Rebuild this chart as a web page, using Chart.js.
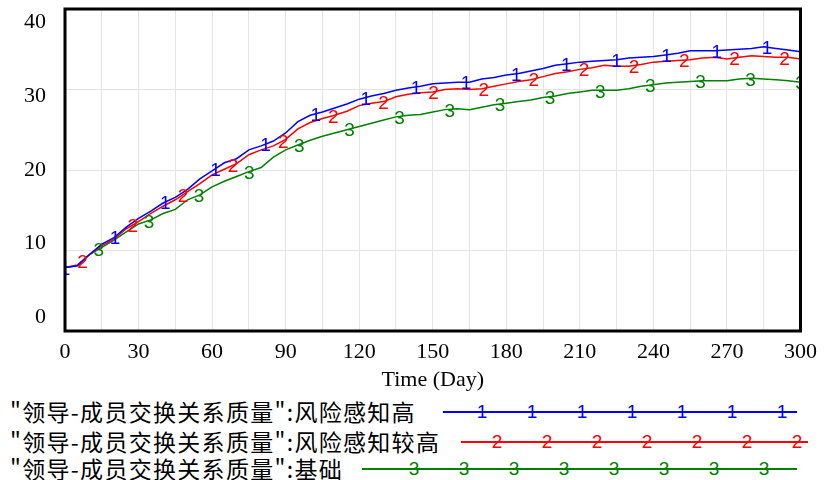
<!DOCTYPE html>
<html lang="zh">
<head>
    <meta charset="UTF-8">
    <title>领导-成员交换关系质量</title>
    <script src="https://cdn.jsdelivr.net/npm/chart.js"></script>
    <style>
        body { margin: 0; background: #fff; }
        #wrap { position: relative; width: 825px; height: 480px; }
        #chart-box { position: absolute; left: 0; top: 0; width: 825px; height: 393px; }
        .legend-row {
            position: absolute; left: 10px; height: 30px; line-height: 30px;
            font-family: "Noto Sans CJK SC", sans-serif; font-size: 23px; color: #000;
            letter-spacing: 1.3px; white-space: nowrap;
        }
        .sample { position: absolute; height: 0; border-top: 2px solid; }
        .sample span {
            position: absolute; top: -13px; width: 16px; margin-left: -8px; text-align: center;
            font-family: "Liberation Sans", sans-serif; font-size: 19px; line-height: 24px;
        }
    </style>
</head>
<body>
<div id="wrap">
    <div id="chart-box"><canvas id="chart"></canvas></div>
    <div id="legend"></div>
</div>

<script>
    // time axis (days)
    const days = [0, 5, 10, 15, 20, 25, 30, 35, 40, 45, 50, 55, 60, 65, 70, 75, 80, 85, 90, 95,
        100, 105, 110, 115, 120, 125, 130, 135, 140, 145, 150, 155, 160, 165, 170, 175, 180, 185, 190, 195,
        200, 205, 210, 215, 220, 225, 230, 235, 240, 245, 250, 255, 260, 265, 270, 275, 280, 285, 290, 295, 300];

    // 风险感知高
    const seriesHigh = [7.9, 8.1, 9.5, 10.8, 11.6, 12.9, 14.0, 14.9, 15.9, 16.6, 17.6, 18.9, 19.9, 20.9, 21.4, 22.5, 23.0, 23.6, 24.6, 26.0,
        26.8, 27.2, 27.7, 28.2, 28.8, 29.2, 29.5, 29.9, 30.2, 30.4, 30.7, 30.8, 30.9, 30.9, 31.3, 31.5, 31.8, 32.0, 32.3, 32.6,
        33.0, 33.2, 33.4, 33.5, 33.6, 33.7, 33.9, 34.0, 34.1, 34.3, 34.5, 34.8, 34.8, 34.8, 34.9, 35.0, 35.1, 35.3, 35.1, 34.9, 34.7];

    // 风险感知较高
    const seriesHigher = [7.9, 8.2, 9.5, 10.6, 11.4, 12.7, 13.6, 14.6, 15.5, 16.3, 17.3, 18.3, 19.4, 20.1, 20.8, 21.9, 22.5, 23.0, 23.8, 25.1,
        25.9, 26.4, 26.8, 27.3, 28.0, 28.3, 28.5, 29.1, 29.4, 29.6, 29.7, 30.0, 30.1, 30.0, 30.1, 30.4, 30.7, 31.0, 31.2, 31.6,
        32.0, 32.2, 32.5, 32.7, 33.0, 32.9, 32.9, 33.1, 33.4, 33.5, 33.6, 33.7, 33.9, 34.0, 33.8, 34.0, 34.2, 34.1, 34.0, 34.0, 33.8];

    // 基础
    const seriesBase = [7.9, 8.1, 9.5, 10.4, 11.3, 12.3, 13.3, 13.8, 14.6, 15.1, 16.3, 16.9, 17.9, 18.6, 19.2, 19.8, 20.3, 21.6, 22.5, 23.1,
        23.7, 24.2, 24.6, 25.0, 25.4, 25.8, 26.2, 26.6, 26.8, 26.9, 27.2, 27.5, 27.6, 27.5, 27.8, 28.1, 28.3, 28.5, 28.7, 29.0,
        29.2, 29.5, 29.7, 29.9, 29.9, 29.9, 30.1, 30.4, 30.6, 30.8, 30.9, 31.0, 31.1, 31.1, 31.1, 31.3, 31.4, 31.3, 31.2, 31.1, 30.9];

    const seriesNames = ['"领导-成员交换关系质量":风险感知高', '"领导-成员交换关系质量":风险感知较高', '"领导-成员交换关系质量":基础'];
    const seriesTags = ['1', '2', '3'];
    const seriesColors = ['rgb(0,0,255)', 'rgb(255,0,0)', 'rgb(0,128,0)'];
    const yTicks = [0, 10, 20, 30, 40];
    const xTitle = 'Time (Day)';

    // where the numbered tags sit along each line (days)
    const tagStart = [0, 7.2, 13.8];
    const tagStep = 20.45;

    const serif = '"Liberation Serif", "Times New Roman", serif';

    // numbered tags drawn on top of each line
    const tagPlugin = {
        id: 'tags',
        afterDatasetsDraw(chart) {
            const ctx = chart.ctx;
            const area = chart.chartArea;
            ctx.save();
            ctx.beginPath();
            ctx.rect(area.left, area.top, area.right - area.left, area.bottom - area.top);
            ctx.clip();
            ctx.font = '19px "Liberation Sans", sans-serif';
            ctx.textAlign = 'center';
            ctx.textBaseline = 'middle';
            chart.data.datasets.forEach((ds, di) => {
                const pts = chart.getDatasetMeta(di).data;
                ctx.fillStyle = seriesColors[di];
                for (let d = tagStart[di]; d <= 300.5; d += tagStep) {
                    let i = 0;
                    while (i < days.length - 2 && days[i + 1] < d) i++;
                    const t = Math.min(1, (d - days[i]) / (days[i + 1] - days[i]));
                    const px = pts[i].x + (pts[i + 1].x - pts[i].x) * t;
                    const py = pts[i].y + (pts[i + 1].y - pts[i].y) * t;
                    ctx.fillText(seriesTags[di], px, py + 2);
                }
            });
            ctx.restore();
        }
    };

    // thick frame and the y labels (spread a little inside the gridlines, like the original)
    const framePlugin = {
        id: 'frame',
        afterDraw(chart) {
            const ctx = chart.ctx;
            const a = chart.chartArea;
            ctx.save();
            ctx.strokeStyle = '#000';
            ctx.lineWidth = 3;
            ctx.strokeRect(a.left, a.top, a.right - a.left, a.bottom - a.top);

            const y = chart.scales.y;
            const mid = (a.top + a.bottom) / 2;
            ctx.fillStyle = '#000';
            ctx.font = '22px ' + serif;
            ctx.textAlign = 'right';
            ctx.textBaseline = 'middle';
            yTicks.forEach(v => {
                const py = mid + (y.getPixelForValue(v) - mid) * 0.915;
                ctx.fillText(String(v), a.left - 19, py);
            });
            ctx.restore();
        }
    };

    new Chart(document.getElementById('chart'), {
        type: 'line',
        data: {
            datasets: [seriesHigh, seriesHigher, seriesBase].map((s, i) => ({
                label: seriesNames[i],
                data: s.map((v, k) => ({ x: days[k], y: v })),
                borderColor: seriesColors[i],
                borderWidth: 1.5,
                pointRadius: 0,
                tension: 0,
                fill: false
            }))
        },
        options: {
            responsive: true,
            maintainAspectRatio: false,
            animation: false,
            layout: { padding: { left: 0, right: 22, top: 9, bottom: 0 } },
            plugins: { legend: { display: false }, tooltip: { enabled: false } },
            scales: {
                x: {
                    type: 'linear',
                    min: 0,
                    max: 300,
                    afterFit: s => { s.height = 62; },
                    grid: { color: '#e4e4e4', drawTicks: false },
                    border: { display: false },
                    ticks: {
                        stepSize: 15,
                        padding: 8,
                        maxRotation: 0,
                        autoSkip: false,
                        color: '#000',
                        font: { family: serif, size: 22 },
                        callback: v => (v % 30 === 0 ? String(v) : '')
                    },
                    title: {
                        display: true,
                        text: xTitle,
                        color: '#000',
                        padding: 0,
                        font: { family: serif, size: 22 }
                    }
                },
                y: {
                    min: 0,
                    max: 40,
                    afterFit: s => { s.width = 65; },
                    grid: { color: '#e4e4e4', drawTicks: false },
                    border: { display: false },
                    ticks: { stepSize: 10, display: false }
                }
            }
        },
        plugins: [tagPlugin, framePlugin]
    });

    // legend rows under the chart
    const legendLayout = [
        { top: 396, lineLeft: 443, lineRight: 797, firstTag: 482, count: 7 },
        { top: 426, lineLeft: 461, lineRight: 808, firstTag: 497, count: 7 },
        { top: 453, lineLeft: 362, lineRight: 797, firstTag: 414, count: 8 }
    ];
    const legend = document.getElementById('legend');
    seriesNames.forEach((name, i) => {
        const L = legendLayout[i];
        const row = document.createElement('div');
        row.className = 'legend-row';
        row.style.top = L.top + 'px';
        row.textContent = name;
        legend.appendChild(row);

        const line = document.createElement('div');
        line.className = 'sample';
        line.style.left = L.lineLeft + 'px';
        line.style.top = (L.top + 15) + 'px';
        line.style.width = (L.lineRight - L.lineLeft) + 'px';
        line.style.borderColor = seriesColors[i];
        for (let k = 0; k < L.count; k++) {
            const tag = document.createElement('span');
            tag.textContent = seriesTags[i];
            tag.style.color = seriesColors[i];
            tag.style.left = (L.firstTag - L.lineLeft + k * 50) + 'px';
            line.appendChild(tag);
        }
        legend.appendChild(line);
    });
</script>
</body>
</html>
